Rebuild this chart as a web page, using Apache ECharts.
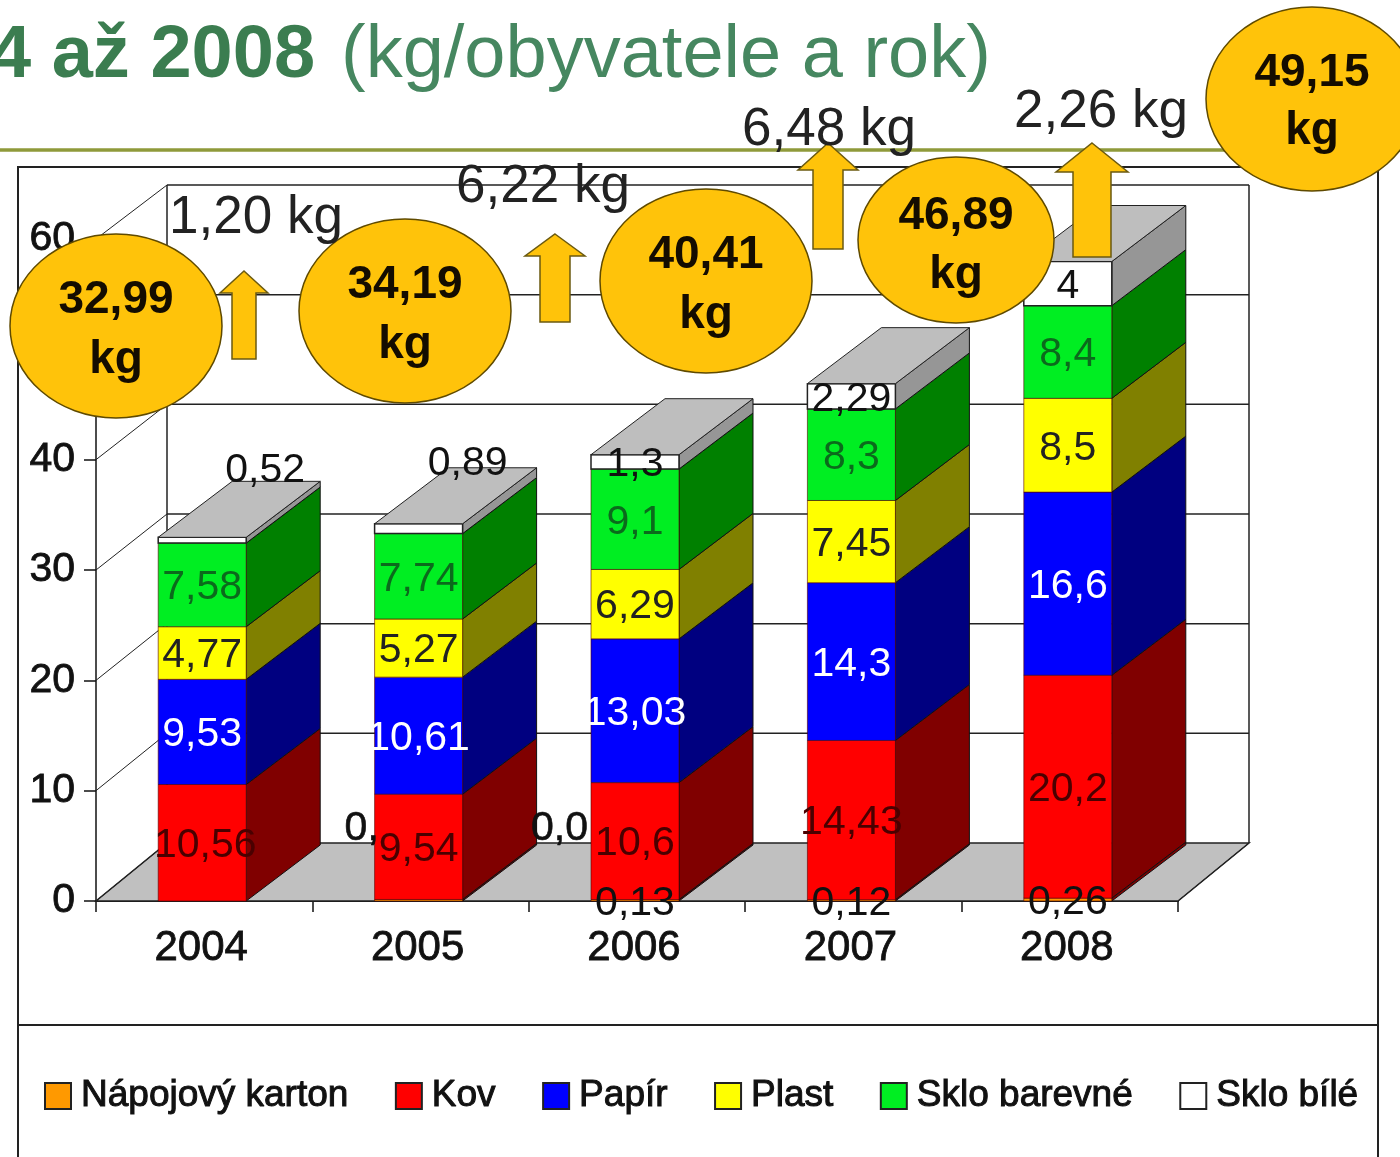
<!DOCTYPE html>
<html><head><meta charset="utf-8">
<style>html,body{margin:0;padding:0;background:#fff}#c{width:1400px;height:1157px}</style>
<script src="https://cdn.jsdelivr.net/npm/echarts@6/dist/echarts.min.js"></script>
</head><body><div id="c"></div>
<script>
const categories = ['2004','2005','2006','2007','2008'];
const napojovyKarton = [0, 0.14, 0.13, 0.12, 0.26];
const kov = [10.56, 9.54, 10.6, 14.43, 20.2];
const papir = [9.53, 10.61, 13.03, 14.3, 16.6];
const plast = [4.77, 5.27, 6.29, 7.45, 8.5];
const skloBarevne = [7.58, 7.74, 9.1, 8.3, 8.4];
const skloBile = [0.52, 0.89, 1.3, 2.29, 4];
const yTicks = {min: 0, max: 60, interval: 10};
const seriesNames = ['Nápojový karton','Kov','Papír','Plast','Sklo barevné','Sklo bílé'];
const seriesValues = [napojovyKarton, kov, papir, plast, skloBarevne, skloBile];
const totals = ['32,99','34,19','40,41','46,89','49,15'];
const increments = ['1,20 kg','6,22 kg','6,48 kg','2,26 kg'];
const cutOffLabels = ['0,','0,0'];

const FONT = '"Liberation Sans", Arial, sans-serif';
const faces = [
  {front:'#FF9900', side:'#800000', text:'#222'},
  {front:'#FF0000', side:'#800000', text:'#4a0000'},
  {front:'#0000FF', side:'#000080', text:'#FFFFFF'},
  {front:'#FFFF00', side:'#808000', text:'#222'},
  {front:'#00EE22', side:'#008000', text:'#0b6a1c'},
  {front:'#FFFFFF', side:'#969696', text:'#111'}
];
const BAR_W = 88, BAR_DX = 74, DEPTH_X = 71, DEPTH_Y = 58, BAR_DY = 56, BAR_SHIFT = -2;
const BACK_SCALE = 658 / 662;

// stacked data rows: [category index, base, top, value]
const running = categories.map(() => 0);
const stacks = seriesValues.map(vals => vals.map((v, i) => {
  const base = running[i]; running[i] += v;
  return [i, base, running[i], v];
}));

function wallItem(params, api) {
  const o = api.coord([0, 0]);
  const band = api.size([1, 0])[0];
  const x0 = o[0] - band / 2, x1 = x0 + band * categories.length;
  const bot = o[1] - DEPTH_Y;
  const backY = y => bot - (o[1] - y) * BACK_SCALE;
  const ch = [];
  ch.push({type:'polygon', shape:{points:[[x0,o[1]],[x1,o[1]],[x1+DEPTH_X,bot],[x0+DEPTH_X,bot]]},
    style:{fill:'#C0C0C0', stroke:'#222', lineWidth:1.5}});
  for (let t = yTicks.min; t <= yTicks.max; t += yTicks.interval) {
    const y = api.coord([0, t])[1];
    if (t > 0) ch.push({type:'line', shape:{x1:x0+DEPTH_X,y1:backY(y),x2:x1+DEPTH_X,y2:backY(y)}, style:{stroke:'#222', lineWidth:1.5}});
    ch.push({type:'line', shape:{x1:x0,y1:y,x2:x0+DEPTH_X,y2:backY(y)}, style:{stroke:'#222', lineWidth:1}});
  }
  const top = backY(api.coord([0, yTicks.max])[1]);
  ch.push({type:'line', shape:{x1:x0+DEPTH_X,y1:top,x2:x0+DEPTH_X,y2:bot}, style:{stroke:'#222', lineWidth:1.5}});
  ch.push({type:'line', shape:{x1:x1+DEPTH_X,y1:top,x2:x1+DEPTH_X,y2:bot}, style:{stroke:'#222', lineWidth:1.5}});
  ch.push({type:'line', shape:{x1:x1,y1:o[1],x2:x1+DEPTH_X,y2:bot}, style:{stroke:'#222', lineWidth:1}});
  return {type:'group', children:ch};
}

function barItem(k) {
  return function (params, api) {
    const i = api.value(0), v = api.value(3);
    const pb = api.coord([i, api.value(1)]), pt = api.coord([i, api.value(2)]);
    const xl = pb[0] - BAR_W / 2 + BAR_SHIFT, xr = xl + BAR_W;
    const yb = pb[1], yt = pt[1];
    const ch = [];
    if (v > 0) {
      ch.push({type:'polygon', shape:{points:[[xr,yb],[xr,yt],[xr+BAR_DX,yt-BAR_DY],[xr+BAR_DX,yb-BAR_DY]]},
        style:{fill:faces[k].side, stroke:'#111', lineWidth:1}});
      ch.push({type:'rect', shape:{x:xl,y:yt,width:BAR_W,height:yb-yt},
        style:{fill:faces[k].front, stroke:k===5?'#222':'#550000', lineWidth:k===5?1.5:0.6}});
      if (k === seriesValues.length - 1) {
        ch.push({type:'polygon', shape:{points:[[xl,yt],[xr,yt],[xr+BAR_DX,yt-BAR_DY],[xl+BAR_DX,yt-BAR_DY]]},
          style:{fill:'#BEBEBE', stroke:'#222', lineWidth:1}});
      }
    }
    return {type:'group', children:ch};
  };
}

function labelItem(k) {
  return function (params, api) {
    const i = api.value(0), v = api.value(3);
    if (!v || (k === 0 && i < 2)) return {type:'group', children:[]};
    const p = api.coord([i, (api.value(1) + api.value(2)) / 2]);
    let x = p[0] + BAR_SHIFT, y = p[1] + 3;
    // Labels the original author dragged off their segment
    if (k === 5 && i < 2) { x += 63 - i * 14; y = api.coord([i, api.value(2)])[1] + (i === 0 ? -67 : -60); }
    if (k === 1 && i === 0) x += 3;
    return {type:'text', style:{x:x, y:y, text:String(v).replace('.', ','), fill:(k===0||(k===5))?'#111':faces[k].text,
      font:'41px '+FONT, align:'center', verticalAlign:'middle'}};
  };
}

function cutOffItem(params, api) {
  const i = api.value(0);
  const o = api.coord([i + 1, 0]);
  const x = o[0] - BAR_W / 2 + BAR_SHIFT - (i === 0 ? 30 : 60);
  return {type:'text', style:{x:x, y:o[1]-72, text:cutOffLabels[i], fill:'#111',
    stroke:'#111', lineWidth:0.6, font:'41px '+FONT, align:'left', verticalAlign:'middle'}};
}

const series = [{
  type:'custom', name:'_wall', silent:true, clip:false, data:[[0]], renderItem:wallItem, encode:{x:0}
}];
seriesNames.forEach((name, k) => {
  series.push({type:'custom', name, clip:false, data:stacks[k], renderItem:barItem(k), encode:{x:0, y:[1,2]},
    itemStyle:{color:faces[k].front, borderColor:'#222', borderWidth:2}});
});
seriesNames.forEach((name, k) => {
  series.push({type:'custom', name:'_lab'+k, clip:false, silent:true, data:stacks[k], renderItem:labelItem(k), encode:{x:0, y:[1,2]}});
});
series.push({type:'custom', name:'_cut', clip:false, silent:true, data:cutOffLabels.map((t, i) => [i]), renderItem:cutOffItem, encode:{x:0}});

const GOLD = '#FFC30A', EDGE = '#5f4a00';
function ellipse(cx, cy, rx, ry) {
  return {type:'ellipse', z:100, shape:{cx,cy,rx,ry}, style:{fill:GOLD, stroke:EDGE, lineWidth:1.5}};
}
function arrow(cx, top, neck, bottom, headHalf, shaftHalf) {
  return {type:'polygon', z:90, shape:{points:[[cx,top],[cx+headHalf,neck],[cx+shaftHalf,neck],[cx+shaftHalf,bottom],[cx-shaftHalf,bottom],[cx-shaftHalf,neck],[cx-headHalf,neck]]},
    style:{fill:GOLD, stroke:'#6b5a10', lineWidth:1.5}};
}
function txt(x, y, text, font, fill, align) {
  return {type:'text', z:101, style:{x, y, text, font, fill:fill||'#1a1a1a', align:align||'center', verticalAlign:'middle'}};
}
const circles = [[116,326,106,92,300,360],[405,311,106,92,285,345],[706,281,106,92,255,315],[956,240,98,83,216,275],[1312,99,106,92,73,131]];
const arrows = [[244,271,293,359,24,12],[555,234,256,322,30,15],[828,143,170,249,30,15],[1092,143,172,257,36,19]];
const incPos = [[256,218],[543,187],[829,130],[1101,112]];
const graphicEls = [
  {type:'rect', z:0, shape:{x:18,y:167,width:1360,height:1100}, style:{fill:'none', stroke:'#222', lineWidth:2}},
  {type:'line', z:0, shape:{x1:18,y1:1025,x2:1378,y2:1025}, style:{stroke:'#222', lineWidth:2}},
  {type:'line', z:0, shape:{x1:0,y1:150,x2:1400,y2:150}, style:{stroke:'#8F9A3A', lineWidth:3.5}},
  {type:'text', z:101, style:{x:-10, y:57, verticalAlign:'middle', align:'left', text:'4 až 2008', font:'bold 74px '+FONT, fill:'#3B7D50'}},
  {type:'text', z:101, style:{x:341, y:57, verticalAlign:'middle', align:'left', text:'(kg/obyvatele a rok)', font:'74px '+FONT, fill:'#468760'}}
];
arrows.forEach(a => graphicEls.push(arrow(...a)));
circles.forEach((c, i) => {
  graphicEls.push(ellipse(c[0],c[1],c[2],c[3]));
  graphicEls.push(txt(c[0],c[4],totals[i],'bold 46px '+FONT,'#140c00'));
  graphicEls.push(txt(c[0],c[5],'kg','bold 46px '+FONT,'#140c00'));
});
incPos.forEach((p, i) => graphicEls.push(txt(p[0],p[1],increments[i],'53px '+FONT,'#222')));

const chart = echarts.init(document.getElementById('c'), null, {renderer:'canvas'});
chart.setOption({
  animation:false,
  backgroundColor:'#FFFFFF',
  tooltip:{show:false},
  grid:{left:96, top:239, width:1082, height:662, containLabel:false},
  xAxis:{type:'category', data:categories, boundaryGap:true,
    axisLine:{show:true, lineStyle:{color:'#111', width:2}},
    axisTick:{show:true, length:11, lineStyle:{color:'#111', width:1.5}},
    axisLabel:{fontSize:42, fontFamily:FONT, color:'#111', margin:26, padding:[0,6,0,0], interval:0, textBorderColor:'#111', textBorderWidth:0.8},
    splitLine:{show:false}},
  yAxis:{type:'value', min:yTicks.min, max:yTicks.max, interval:yTicks.interval,
    axisLine:{show:true, onZero:false, lineStyle:{color:'#111', width:1.5}},
    axisTick:{show:true, length:12, lineStyle:{color:'#111', width:1.5}},
    axisLabel:{fontSize:41, fontFamily:FONT, color:'#111', margin:21, padding:[6,0,0,0], textBorderColor:'#111', textBorderWidth:0.8},
    splitLine:{show:false}},
  legend:{data:seriesNames.map(name => ({name, icon:'rect'})), left:44, top:1077, padding:0, itemGap:46, itemWidth:26, itemHeight:26,
    selectedMode:false,
    itemStyle:{borderColor:'#222', borderWidth:2},
    textStyle:{fontSize:37, fontFamily:FONT, color:'#111', padding:[0,0,0,5], textBorderColor:'#111', textBorderWidth:1}},
  series,
  graphic:{elements:graphicEls}
});
</script></body></html>
